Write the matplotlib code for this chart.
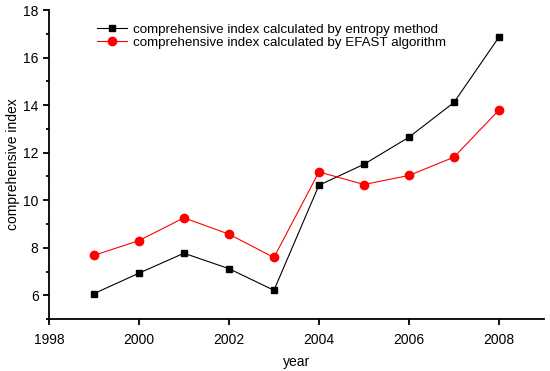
import matplotlib
matplotlib.use("Agg")
import matplotlib.pyplot as plt
from matplotlib.ticker import MultipleLocator

plt.rcParams["font.family"] = ["Liberation Sans", "DejaVu Sans"]

years = [1999, 2000, 2001, 2002, 2003, 2004, 2005, 2006, 2007, 2008]
entropy = [6.07, 6.93, 7.77, 7.12, 6.21, 10.63, 11.51, 12.65, 14.11, 16.86]
efast = [7.68, 8.30, 9.26, 8.57, 7.59, 11.19, 10.66, 11.04, 11.81, 13.79]

LBL_ENTROPY = "comprehensive index calculated by entropy method"
LBL_EFAST = "comprehensive index calculated by EFAST algorithm"


def main() -> None:
    fig = plt.figure(figsize=(5.5, 3.71), dpi=100)
    ax = fig.add_axes([0.089, 0.140, 0.900, 0.833])

    ax.plot(years, entropy, color="black", lw=0.8, marker="s", ms=4.6,
            label=LBL_ENTROPY)
    ax.plot(years, efast, color="red", lw=0.8, marker="o", ms=6.0,
            label=LBL_EFAST)

    ax.set_xlim(1998, 2009)
    ax.set_ylim(5, 18)
    ax.xaxis.set_major_locator(MultipleLocator(2))
    ax.yaxis.set_major_locator(MultipleLocator(2))
    ax.yaxis.set_minor_locator(MultipleLocator(1))

    for s in ("top", "right"):
        ax.spines[s].set_visible(False)
    for s in ("left", "bottom"):
        ax.spines[s].set_linewidth(1.3)
    ax.tick_params(which="major", direction="out", length=4, width=1.3,
                   labelsize=10, colors="black")
    ax.tick_params(which="minor", direction="out", length=2.5, width=1.3)
    ax.tick_params(axis="x", pad=6)

    ax.set_xlabel("year", fontsize=10, labelpad=6)
    ax.set_ylabel("comprehensive index", fontsize=10, labelpad=2)

    ax.legend(loc="upper left", bbox_to_anchor=(0.160, 0.962),
              bbox_transform=fig.transFigure, frameon=False, fontsize=9.6,
              handlelength=2.2, handletextpad=0.45, labelspacing=0.08,
              borderpad=0.2)

    fig.savefig("out.png", dpi=100)


if __name__ == "__main__":
    main()
